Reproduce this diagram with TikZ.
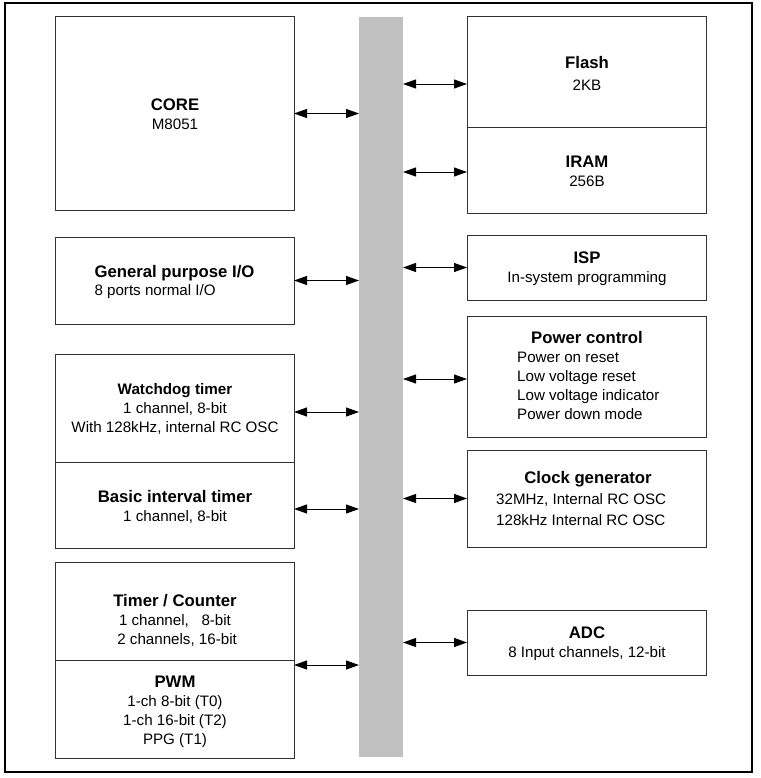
\documentclass[tikz,border=0pt]{standalone}
\usepackage{fontspec}
\setmainfont{Liberation Sans}
\usetikzlibrary{arrows.meta}
\definecolor{busgray}{RGB}{192,192,192}
\definecolor{edgegray}{RGB}{50,50,50}
\newcommand\tfont{\fontsize{16.8}{19}\selectfont\bfseries}
\newcommand\sfnt{\fontsize{15.2}{19}\selectfont}
\begin{document}
\begin{tikzpicture}[x=1bp,y=-1bp,
  box/.style={draw=edgegray, line width=1bp, minimum width=239bp, inner sep=0, outer sep=0, anchor=north west},
  txt/.style={font=\sfnt, align=center, inner sep=0, text=black},
  txtl/.style={font=\sfnt, align=left, inner sep=0, text=black},
  conn/.style={{Triangle[length=13bp,width=9bp]}-{Triangle[length=13bp,width=9bp]}, line width=1bp, draw=black}
]
\useasboundingbox (0,0) rectangle (761,778);
\node[draw=black, line width=1.2bp, minimum width=747bp, minimum height=769bp, anchor=north west, inner sep=0, outer sep=0] (frame) at (5,3) {};
\node[fill=busgray, minimum width=44bp, minimum height=740bp, anchor=north west, inner sep=0, outer sep=0] (bus) at (359,17) {};

% left column
\node[box, minimum height=193bp] (core) at (55,17) {};
\node[box, minimum height=87bp] (gpio) at (55,237) {};
\node[box, minimum height=108bp] (wdt) at (55,354) {};
\node[box, minimum height=86bp] (bit) at (55,462) {};
\node[box, minimum height=98bp] (tc) at (55,562) {};
\node[box, minimum height=98bp] (pwm) at (55,660) {};

% right column
\node[box, minimum height=110bp] (flash) at (467,17) {};
\node[box, minimum height=86bp] (iram) at (467,127) {};
\node[box, minimum height=65bp] (isp) at (467,235) {};
\node[box, minimum height=121bp] (pwr) at (467,316) {};
\node[box, minimum height=97bp] (clk) at (467,450) {};
\node[box, minimum height=65bp] (adc) at (467,610) {};

% texts left
\node[txt] (coreT) at (175,114) {{\tfont CORE}\\M8051};
\node[txtl] (gpioT) at (174.5,282) {{\tfont General purpose I/O}\\8 ports normal I/O};
\node[txt] (wdtT) at (175,409) {{\fontsize{15.3}{19}\selectfont\bfseries Watchdog timer}\\1 channel, 8-bit\\With 128kHz, internal RC OSC};
\node[txt] (bitT) at (175,507) {{\tfont Basic interval timer}\\1 channel, 8-bit};
\node[txt] (tcT) at (175,620) {{\tfont Timer / Counter}\\1 channel,\ \ \ 8-bit\\\ 2 channels, 16-bit};
\node[txt] (pwmT) at (175,712) {{\tfont PWM}\\1-ch 8-bit (T0)\\1-ch 16-bit (T2)\\PPG (T1)};

% texts right
\node[txt] (flashT) at (587,73.5) {{\tfont Flash}\\[2.5bp]2KB};
\node[txt] (iramT) at (587,171) {{\tfont IRAM}\\256B};
\node[txt] (ispT) at (587,269) {{\tfont ISP}\\In-system programming};
\node[txt] (pwrT) at (587,338) {\tfont Power control};
\node[txtl, anchor=west] (pwrL) at (517,386) {Power on reset\\Low voltage reset\\Low voltage indicator\\Power down mode};
\node[txt] (clkT) at (588,479) {\tfont Clock generator};
\node[txtl, anchor=west] (clkL) at (496,509.5) {32MHz, Internal RC OSC\\[2bp]128kHz Internal RC OSC};
\node[txt] (adcT) at (587,644) {{\tfont ADC}\\8 Input channels, 12-bit};

% connectors left
\draw[conn] (core.east) -- (core.east -| bus.west);
\draw[conn] (gpio.east) -- (gpio.east -| bus.west);
\draw[conn] ([yshift=-4bp]wdt.east) -- ([yshift=-4bp]wdt.east -| bus.west);
\draw[conn] ([yshift=-4bp]bit.east) -- ([yshift=-4bp]bit.east -| bus.west);
\draw[conn] ([yshift=-5bp]pwm.north east) -- ([yshift=-5bp]pwm.north east -| bus.west);

% connectors right
\draw[conn] ([yshift=-12bp]flash.west -| bus.east) -- ([yshift=-12bp]flash.west);
\draw[conn] ([yshift=-2bp]iram.west -| bus.east) -- ([yshift=-2bp]iram.west);
\draw[conn] (isp.west -| bus.east) -- (isp.west);
\draw[conn] ([yshift=-2.5bp]pwr.west -| bus.east) -- ([yshift=-2.5bp]pwr.west);
\draw[conn] (clk.west -| bus.east) -- (clk.west);
\draw[conn] (adc.west -| bus.east) -- (adc.west);
\end{tikzpicture}
\end{document}
